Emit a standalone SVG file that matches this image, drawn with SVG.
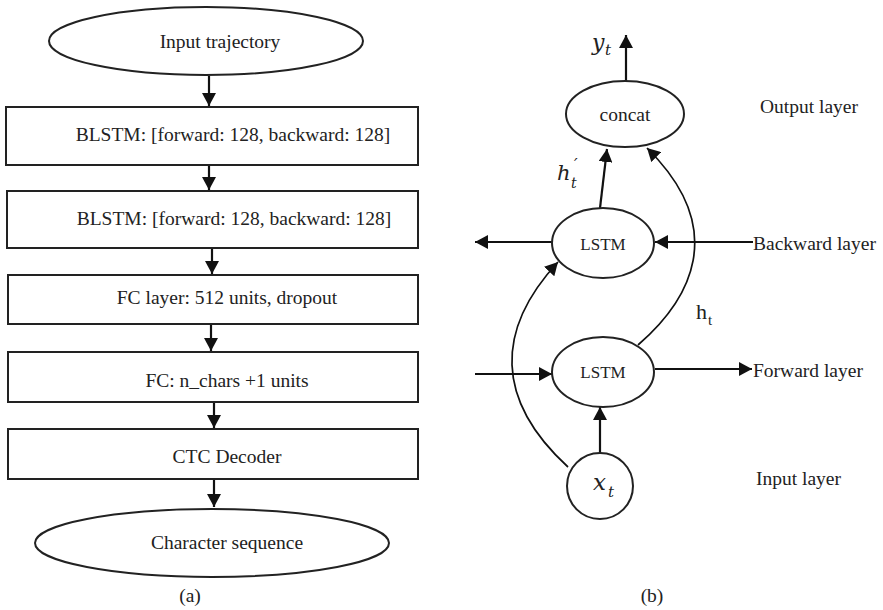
<svg xmlns="http://www.w3.org/2000/svg" width="883" height="610" viewBox="0 0 883 610">
<style>
.n{fill:#fff;stroke:#222;stroke-width:2}
.t{font-family:"Liberation Serif","Times New Roman",serif;font-size:19.5px;fill:#222;text-anchor:middle}
.s{font-family:"Liberation Serif","Times New Roman",serif;font-size:17px;fill:#222;text-anchor:middle}
.l{font-family:"Liberation Serif","Times New Roman",serif;font-size:19.5px;fill:#222}
.m{font-family:"DejaVu Serif","Liberation Serif",serif;font-style:italic;fill:#222}
.a{fill:none;stroke:#111;stroke-width:2.2}
.c{fill:none;stroke:#111;stroke-width:1.7}
</style>
<defs>
<marker id="ah" viewBox="0 0 13 14" refX="13" refY="7" markerWidth="13" markerHeight="14" markerUnits="userSpaceOnUse" orient="auto">
<path d="M0,0 L13,7 L0,14 z" fill="#111"/>
</marker>
</defs>
<g id="connectors">
<line class="a" x1="209" y1="76" x2="209" y2="106" marker-end="url(#ah)"/>
<line class="a" x1="209" y1="165" x2="209" y2="190" marker-end="url(#ah)"/>
<line class="a" x1="212" y1="248" x2="212" y2="274" marker-end="url(#ah)"/>
<line class="a" x1="211" y1="324" x2="211" y2="351" marker-end="url(#ah)"/>
<line class="a" x1="214" y1="402" x2="214" y2="428" marker-end="url(#ah)"/>
<line class="a" x1="214" y1="479" x2="214" y2="507" marker-end="url(#ah)"/>
<line class="a" x1="626" y1="81" x2="626" y2="35" marker-end="url(#ah)"/>
<line class="a" x1="600" y1="208" x2="607" y2="149" marker-end="url(#ah)"/>
<line class="a" x1="552" y1="242" x2="475" y2="242" marker-end="url(#ah)"/>
<line class="a" x1="753" y1="242" x2="655" y2="242" marker-end="url(#ah)"/>
<line class="a" x1="475" y1="374" x2="552" y2="374" marker-end="url(#ah)"/>
<line class="a" x1="655" y1="369" x2="752" y2="369" marker-end="url(#ah)"/>
<line class="a" x1="600" y1="453" x2="600" y2="407" marker-end="url(#ah)"/>
<path class="c" d="M638,345 C690,300 730,230 647,148" marker-end="url(#ah)"/>
<path class="c" d="M568,467 C495,400 495,330 558,262" marker-end="url(#ah)"/>
</g>
<g id="input-trajectory"><ellipse class="n" cx="206" cy="41" rx="157" ry="34"/><text class="t" x="220" y="48">Input trajectory</text></g>
<g id="blstm1"><rect class="n" x="6" y="107" width="412" height="58"/><text class="t" x="233" y="141">BLSTM: [forward: 128, backward: 128]</text></g>
<g id="blstm2"><rect class="n" x="7" y="191" width="411" height="57"/><text class="t" x="234" y="225">BLSTM: [forward: 128, backward: 128]</text></g>
<g id="fc-layer"><rect class="n" x="8" y="275" width="410" height="49"/><text class="t" x="227" y="304">FC layer: 512 units, dropout</text></g>
<g id="fc-chars"><rect class="n" x="8" y="352" width="410" height="50"/><text class="t" x="227" y="387">FC: n_chars +1 units</text></g>
<g id="ctc"><rect class="n" x="8" y="429" width="410" height="50"/><text class="t" x="227" y="463">CTC Decoder</text></g>
<g id="char-seq"><ellipse class="n" cx="212" cy="543" rx="177" ry="34"/><text class="t" x="227" y="549">Character sequence</text></g>
<text class="t" x="190" y="602">(a)</text>
<g id="concat"><ellipse class="n" cx="625" cy="114" rx="59" ry="33"/><text class="t" x="625" y="121">concat</text></g>
<g id="lstm-back"><ellipse class="n" cx="603" cy="243" rx="51" ry="35"/><text class="s" x="603" y="250">LSTM</text></g>
<g id="lstm-fwd"><ellipse class="n" cx="603" cy="372" rx="51" ry="35"/><text class="s" x="603" y="378">LSTM</text></g>
<g id="xt"><circle class="n" cx="600" cy="486" r="33"/><text class="m" x="593" y="490" font-size="23">x</text><text class="m" x="608" y="497" font-size="15">t</text></g>
<text class="m" x="592" y="50" font-size="22">y</text><text class="m" x="605" y="55" font-size="15">t</text>
<text class="m" x="557" y="180" font-size="21">h</text><text class="m" x="574" y="170" font-size="16">′</text><text class="m" x="571" y="188" font-size="14">t</text>
<text class="l" x="696" y="319" style="font-size:22px">h</text><text class="l" x="708" y="325" style="font-size:15px">t</text>
<text class="l" x="760" y="113">Output layer</text>
<text class="l" x="753" y="250">Backward layer</text>
<text class="l" x="753" y="377">Forward layer</text>
<text class="l" x="756" y="485">Input layer</text>
<text class="t" x="652" y="602">(b)</text>
</svg>
